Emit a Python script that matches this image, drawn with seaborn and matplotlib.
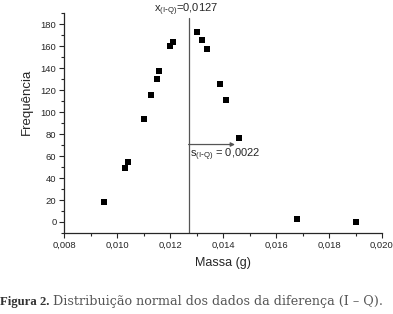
import pandas as pd
import numpy as np
import matplotlib
matplotlib.use("Agg")
import matplotlib.pyplot as plt
import seaborn as sns
from matplotlib.ticker import MultipleLocator, FuncFormatter

# dados
massa = [0.0095, 0.0103, 0.0104, 0.0110, 0.0113, 0.0115, 0.0116, 0.0120, 0.0121,
         0.0130, 0.0132, 0.0134, 0.0139, 0.0141, 0.0146, 0.0168, 0.0190]
frequencia = [18, 49, 55, 94, 116, 130, 137, 160, 164,
              173, 166, 157, 126, 111, 76, 3, 0]
media = 0.0127
desvio = 0.0022

dados = pd.DataFrame({'Massa': massa, 'Frequencia': frequencia})

sns.set_style("ticks")
plt.rcParams['font.family'] = ['Liberation Sans', 'DejaVu Sans']

fig = plt.figure(figsize=(3.93, 3.14), dpi=100)
ax = fig.add_axes([0.163, 0.258, 0.809, 0.700])

sns.scatterplot(data=dados, x='Massa', y='Frequencia', marker='s', s=14,
                color='black', edgecolor='black', linewidth=0, ax=ax)

ax.set_xlim(0.008, 0.020)
ax.set_ylim(-10, 190)

# linha da média e seta do desvio
ax.plot([media, media], [-10, 185.5], color='#555555', lw=0.9)
ax.annotate('', xy=(media + 0.00175, 70.5), xytext=(media, 70.5),
            arrowprops=dict(arrowstyle='-|>', color='#555555', lw=0.9,
                            mutation_scale=6, shrinkA=0, shrinkB=0))

ax.text(media - 0.0001, 190.5, r'x$_{\mathregular{(I\text{-}Q)}}$=0,0127', ha='center',
        va='baseline', fontsize=8, clip_on=False)
ax.text(media + 0.00004, 68.5, r's$_{\mathregular{(I\text{-}Q)}}$ = 0,0022', ha='left',
        va='top', fontsize=8)

ax.xaxis.set_major_locator(MultipleLocator(0.002))
ax.xaxis.set_minor_locator(MultipleLocator(0.001))
ax.yaxis.set_major_locator(MultipleLocator(20))
ax.yaxis.set_minor_locator(MultipleLocator(10))
ax.set_yticks(np.arange(0, 181, 20))
ax.xaxis.set_major_formatter(FuncFormatter(lambda v, p: f'{v:.3f}'.replace('.', ',')))

ax.tick_params(axis='both', which='major', length=3.5, width=0.8, labelsize=6.8, pad=2)
ax.tick_params(axis='both', which='minor', length=2, width=0.8)

sns.despine(ax=ax)
for sp in ['left', 'bottom']:
    ax.spines[sp].set_linewidth(0.9)

ax.set_xlabel('Massa (g)', fontsize=9, labelpad=5)
ax.set_ylabel('Frequência', fontsize=9.5)
ax.yaxis.set_label_coords(-0.097, 0.597)

fig.text(0.0, 0.02, 'Figura 2.', fontsize=9.2, fontweight='bold',
         family='Liberation Serif', color='#333333', ha='left', va='bottom')
fig.text(0.135, 0.02, 'Distribuição normal dos dados da diferença (I – Q).', fontsize=9.2,
         family='DejaVu Serif', color='#555555', ha='left', va='bottom')

fig.savefig('out.png', dpi=100)
